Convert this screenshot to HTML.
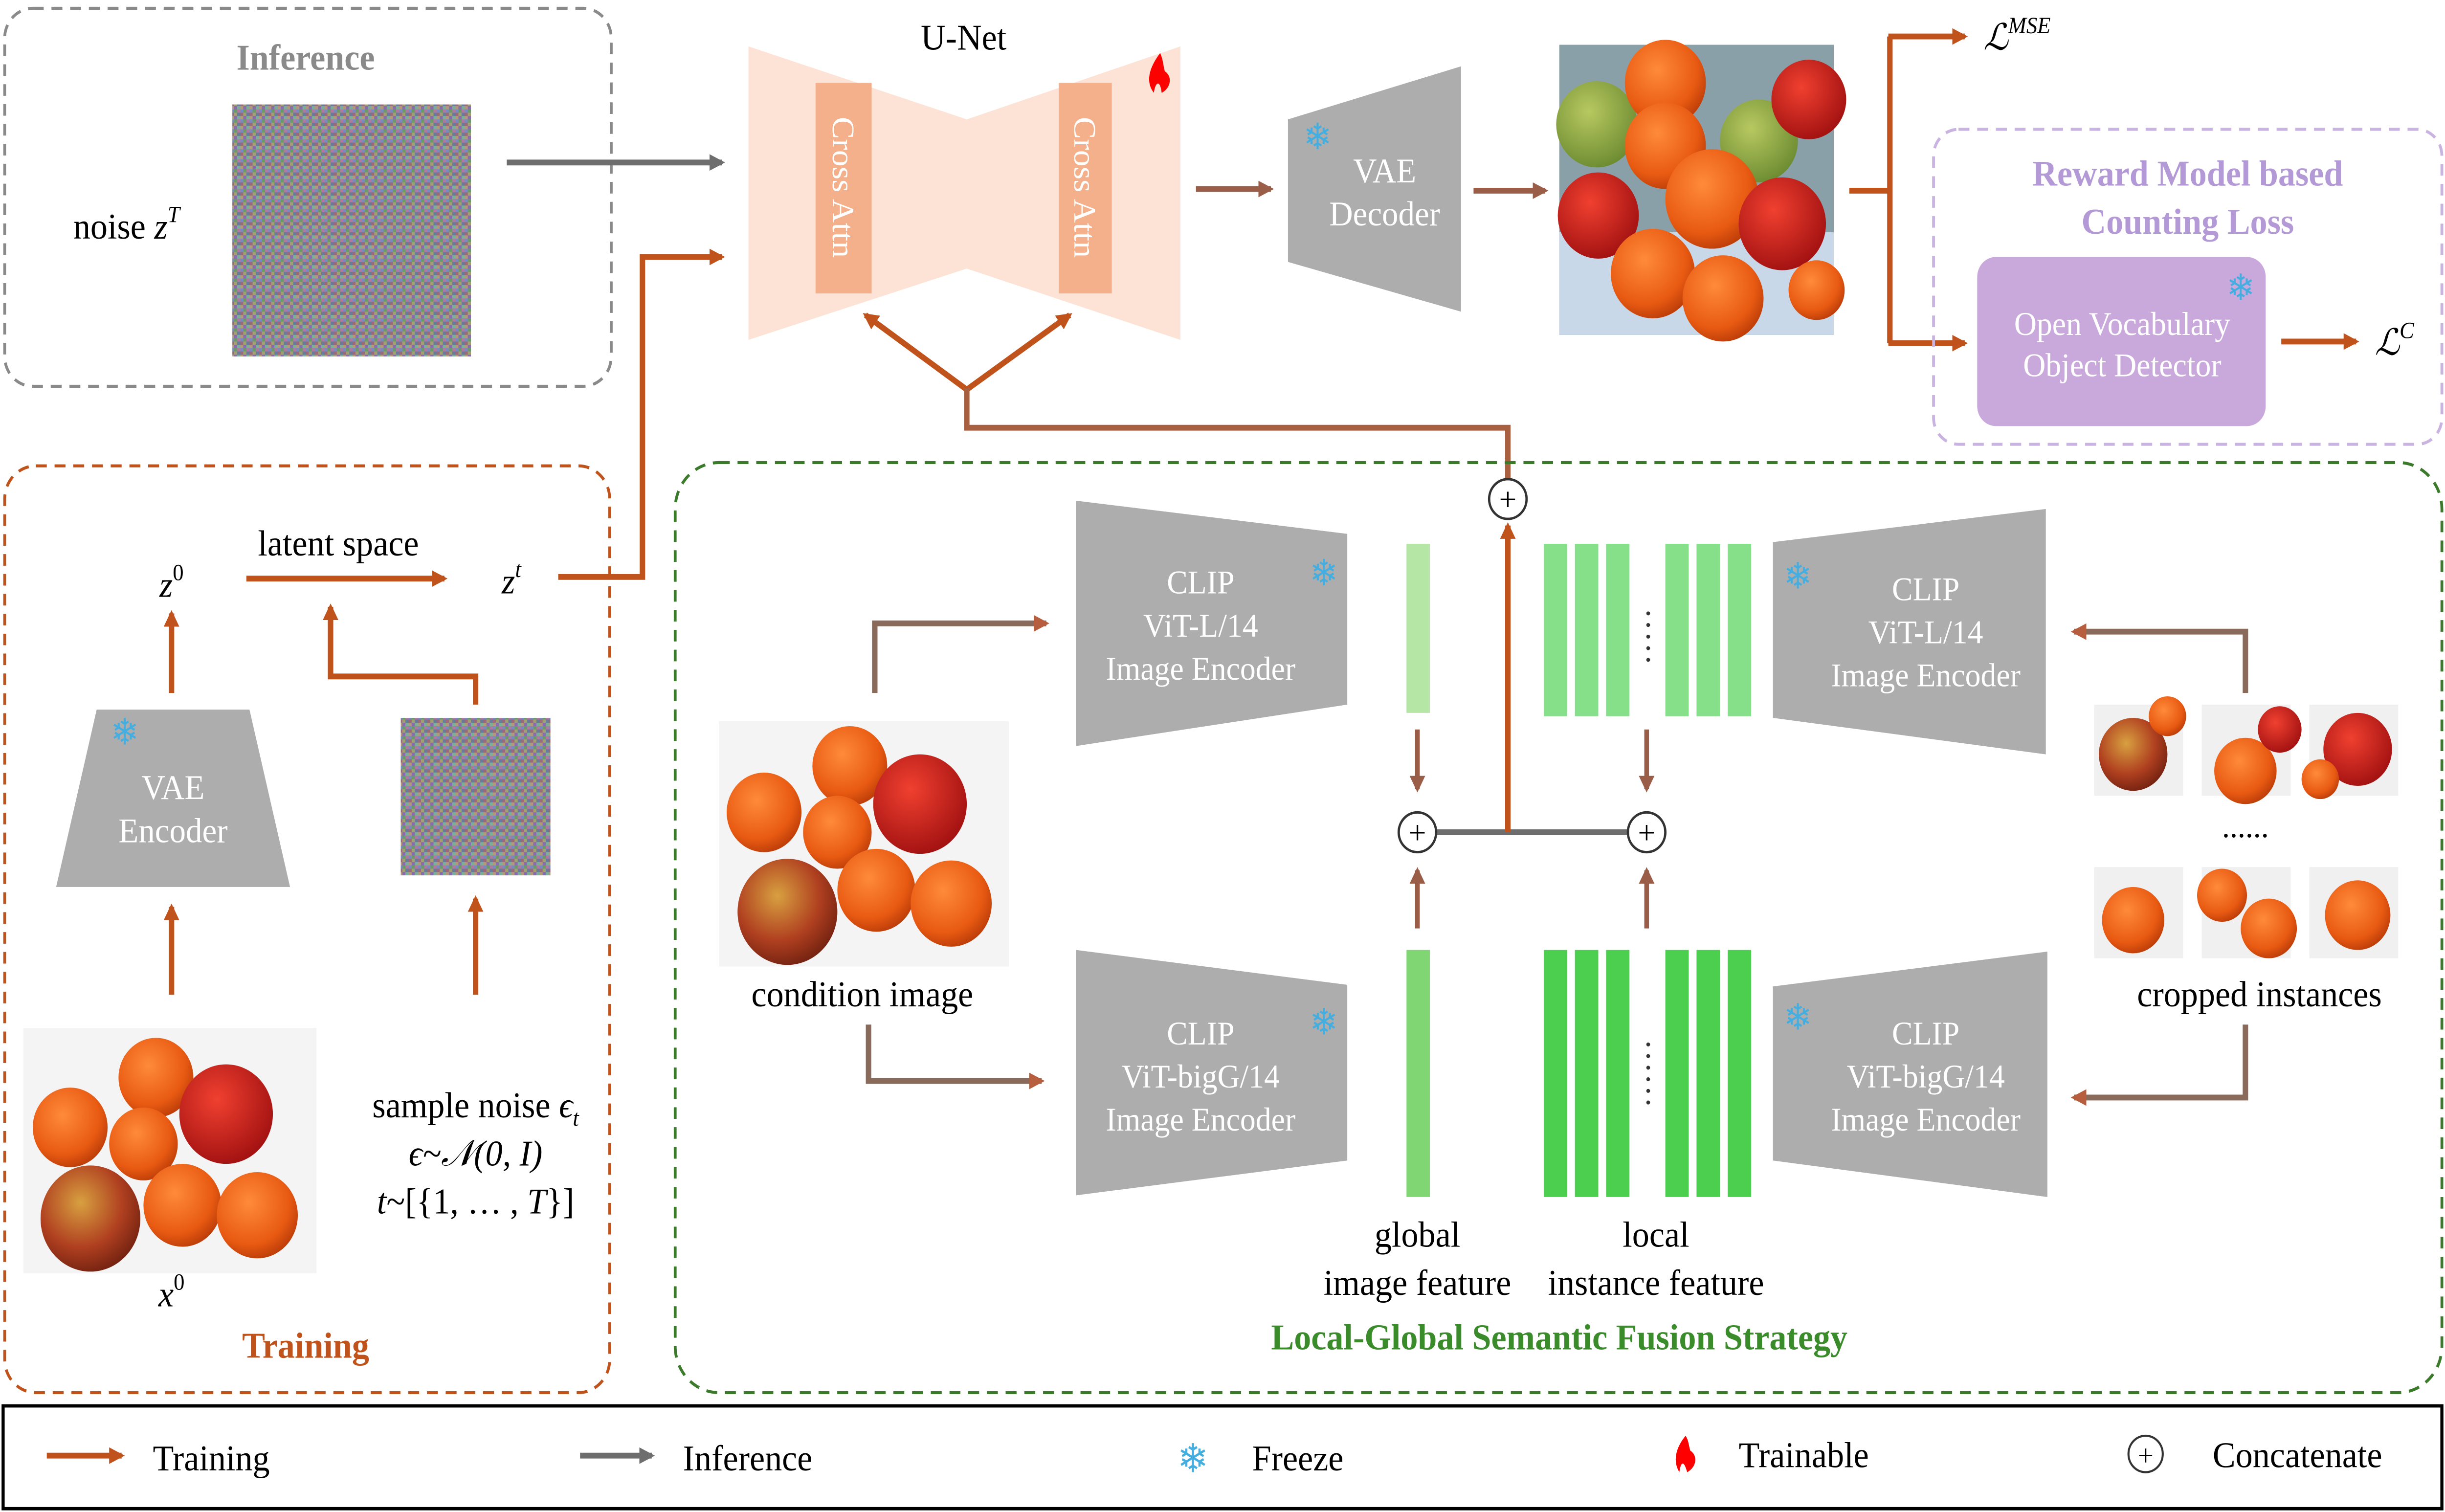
<!DOCTYPE html>
<html><head><meta charset="utf-8">
<style>
html,body{margin:0;padding:0;background:#fff;overflow:hidden;width:100%;height:100%;}
svg{display:block;position:fixed;left:0;top:0;width:100vw;height:100vh;}
text{font-family:"Liberation Serif",serif;}
</style></head>
<body>
<svg viewBox="0 0 1568 912" preserveAspectRatio="none" xmlns="http://www.w3.org/2000/svg">
<defs>
<marker id="ao" markerWidth="10" markerHeight="10" refX="8" refY="5" orient="auto" markerUnits="userSpaceOnUse"><path d="M0,0 L10,5 L0,10 z" fill="#c0531b"/></marker>
<marker id="ag" markerWidth="10" markerHeight="10" refX="8" refY="5" orient="auto" markerUnits="userSpaceOnUse"><path d="M0,0 L10,5 L0,10 z" fill="#6e6e6e"/></marker>
<marker id="am" markerWidth="10" markerHeight="10" refX="8" refY="5" orient="auto" markerUnits="userSpaceOnUse"><path d="M0,0 L10,5 L0,10 z" fill="#9a5d48"/></marker>
<marker id="ab" markerWidth="10" markerHeight="10" refX="8" refY="5" orient="auto" markerUnits="userSpaceOnUse"><path d="M0,0 L10,5 L0,10 z" fill="#b65e3e"/></marker>
<radialGradient id="or" cx="0.4" cy="0.35" r="0.7"><stop offset="0" stop-color="#ff8a3a"/><stop offset="0.7" stop-color="#e85a12"/><stop offset="1" stop-color="#b83a08"/></radialGradient>
<radialGradient id="rd" cx="0.4" cy="0.35" r="0.7"><stop offset="0" stop-color="#f04030"/><stop offset="1" stop-color="#a01010"/></radialGradient>
<radialGradient id="ap" cx="0.4" cy="0.35" r="0.7"><stop offset="0" stop-color="#d8a040"/><stop offset="0.6" stop-color="#b04020"/><stop offset="1" stop-color="#702010"/></radialGradient>
<radialGradient id="gr" cx="0.4" cy="0.35" r="0.7"><stop offset="0" stop-color="#b8c860"/><stop offset="1" stop-color="#6a8a30"/></radialGradient>
<pattern id="nz" width="6" height="6" patternUnits="userSpaceOnUse">
<rect width="6" height="6" fill="#8a8a90"/>
<rect x="0" y="0" width="2" height="2" fill="#6a9a6a"/><rect x="2" y="0" width="2" height="2" fill="#b07aa0"/><rect x="4" y="0" width="2" height="2" fill="#7a8ac0"/>
<rect x="0" y="2" width="2" height="2" fill="#a0a070"/><rect x="2" y="2" width="2" height="2" fill="#6a7a9a"/><rect x="4" y="2" width="2" height="2" fill="#9a6a7a"/>
<rect x="0" y="4" width="2" height="2" fill="#8a6ab0"/><rect x="2" y="4" width="2" height="2" fill="#7ab09a"/><rect x="4" y="4" width="2" height="2" fill="#b09a7a"/>
</pattern>
</defs>

<rect x="3" y="5" width="389" height="228" rx="18" fill="none" stroke="#8a8a8a" stroke-width="1.8" stroke-dasharray="7,5"/>
<text x="196" y="42" font-size="22" font-weight="bold" fill="#8a8a8a" text-anchor="middle">Inference</text>
<text x="47" y="144" font-size="22">noise <tspan font-style="italic">z</tspan><tspan font-size="14" dy="-10" font-style="italic">T</tspan></text>
<rect x="149" y="63" width="153" height="152" fill="url(#nz)"/>
<line x1="325" y1="98" x2="463" y2="98" stroke="#6e6e6e" stroke-width="3.5" marker-end="url(#ag)"/>
<polyline points="358,348 412,348 412,155 463,155" fill="none" stroke="#c0531b" stroke-width="3.5" marker-end="url(#ao)"/>

<text x="618" y="30" font-size="22" text-anchor="middle">U-Net</text>
<polygon points="480,28 620,72 757,28 757,205 620,162 480,205" fill="#fce3d6"/>
<rect x="523" y="50" width="36" height="127" fill="#f3b08a"/>
<rect x="679" y="50" width="34" height="127" fill="#f3b08a"/>
<text transform="translate(534,113) rotate(90)" font-size="20" fill="#fff" text-anchor="middle">Cross Attn</text>
<text transform="translate(689,113) rotate(90)" font-size="20" fill="#fff" text-anchor="middle">Cross Attn</text>
<path d="M744,32 C736,42 735,50 740,56 C741,49 744,48 745,56 C751,53 752,46 747,43 C746,40 746,36 744,32z" fill="#f00"/>
<line x1="767" y1="114" x2="815" y2="114" stroke="#9a5d48" stroke-width="3.5" marker-end="url(#am)"/>

<polygon points="826,72 937,40 937,188 826,158" fill="#adadad"/>
<text x="845" y="90" font-size="22" fill="#45aee0" text-anchor="middle">❄</text>
<text x="888" y="110" font-size="21" fill="#fff" text-anchor="middle">VAE</text>
<text x="888" y="136" font-size="21" fill="#fff" text-anchor="middle">Decoder</text>
<line x1="945" y1="115" x2="991" y2="115" stroke="#9a5d48" stroke-width="3.5" marker-end="url(#am)"/>

<rect x="1000" y="27" width="176" height="175" fill="#8aa0a8"/>
<rect x="1000" y="140" width="176" height="62" fill="#c8d8e8"/>
<circle cx="1024" cy="75" r="26" fill="url(#gr)"/>
<circle cx="1068" cy="50" r="26" fill="url(#or)"/>
<circle cx="1128" cy="85" r="25" fill="url(#gr)"/>
<circle cx="1160" cy="60" r="24" fill="url(#rd)"/>
<circle cx="1068" cy="88" r="26" fill="url(#or)"/>
<circle cx="1098" cy="120" r="30" fill="url(#or)"/>
<circle cx="1025" cy="130" r="26" fill="url(#rd)"/>
<circle cx="1143" cy="135" r="28" fill="url(#rd)"/>
<circle cx="1060" cy="165" r="27" fill="url(#or)"/>
<circle cx="1105" cy="180" r="26" fill="url(#or)"/>
<circle cx="1165" cy="175" r="18" fill="url(#or)"/>

<polyline points="1186,115 1212,115" fill="none" stroke="#c0531b" stroke-width="3.5"/>
<polyline points="1212,22 1212,207" fill="none" stroke="#c0531b" stroke-width="3.5"/>
<line x1="1211" y1="22" x2="1260" y2="22" stroke="#c0531b" stroke-width="3.5" marker-end="url(#ao)"/>
<line x1="1211" y1="207" x2="1260" y2="207" stroke="#c0531b" stroke-width="3.5" marker-end="url(#ao)"/>
<text x="1272" y="30" font-size="22" font-style="italic">ℒ<tspan font-size="14" dy="-10">MSE</tspan></text>

<rect x="1240" y="78" width="326" height="190" rx="16" fill="none" stroke="#c9b3e0" stroke-width="1.8" stroke-dasharray="7,5"/>
<text x="1403" y="112" font-size="22" font-weight="bold" fill="#b39ad6" text-anchor="middle">Reward Model based</text>
<text x="1403" y="141" font-size="22" font-weight="bold" fill="#b39ad6" text-anchor="middle">Counting Loss</text>
<rect x="1268" y="155" width="185" height="102" rx="12" fill="#c9a9dc"/>
<text x="1361" y="202" font-size="20" fill="#fff" text-anchor="middle">Open Vocabulary</text>
<text x="1361" y="227" font-size="20" fill="#fff" text-anchor="middle">Object Detector</text>
<text x="1437" y="181" font-size="22" fill="#45aee0" text-anchor="middle">❄</text>
<line x1="1463" y1="206" x2="1511" y2="206" stroke="#c0531b" stroke-width="3.5" marker-end="url(#ao)"/>
<text x="1523" y="214" font-size="22" font-style="italic">ℒ<tspan font-size="14" dy="-10">C</tspan></text>

<line x1="620" y1="235" x2="555" y2="190" stroke="#c0531b" stroke-width="3.5" marker-end="url(#ao)"/>
<line x1="620" y1="235" x2="686" y2="190" stroke="#c0531b" stroke-width="3.5" marker-end="url(#ao)"/>
<polyline points="620,234 620,258 967,258 967,289" fill="none" stroke="#a86040" stroke-width="3.5"/>
<circle cx="967" cy="301" r="12" fill="#fff" stroke="#333" stroke-width="1.5"/>
<text x="967" y="308" font-size="20" text-anchor="middle">+</text>

<rect x="3" y="281" width="388" height="559" rx="20" fill="none" stroke="#c0531b" stroke-width="1.8" stroke-dasharray="7,5"/>
<text x="196" y="819" font-size="22" font-weight="bold" fill="#c0531b" text-anchor="middle">Training</text>
<text x="110" y="360" font-size="22" font-style="italic" text-anchor="middle">z<tspan font-size="14" dy="-10" font-style="normal">0</tspan></text>
<line x1="110" y1="418" x2="110" y2="370" stroke="#c0531b" stroke-width="3.5" marker-end="url(#ao)"/>
<polygon points="62,428 160,428 186,535 36,535" fill="#adadad"/>
<text x="80" y="449" font-size="22" fill="#45aee0" text-anchor="middle">❄</text>
<text x="111" y="482" font-size="21" fill="#fff" text-anchor="middle">VAE</text>
<text x="111" y="508" font-size="21" fill="#fff" text-anchor="middle">Encoder</text>
<line x1="110" y1="600" x2="110" y2="547" stroke="#c0531b" stroke-width="3.5" marker-end="url(#ao)"/>
<rect x="15" y="620" width="188" height="148" fill="#f4f4f4"/>
<circle cx="58" cy="735" r="32" fill="url(#ap)"/>
<circle cx="45" cy="680" r="24" fill="url(#or)"/>
<circle cx="100" cy="650" r="24" fill="url(#or)"/>
<circle cx="145" cy="672" r="30" fill="url(#rd)"/>
<circle cx="92" cy="690" r="22" fill="url(#or)"/>
<circle cx="117" cy="727" r="25" fill="url(#or)"/>
<circle cx="165" cy="733" r="26" fill="url(#or)"/>
<text x="110" y="788" font-size="22" font-style="italic" text-anchor="middle">x<tspan font-size="14" dy="-10" font-style="normal">0</tspan></text>
<text x="217" y="335" font-size="22" text-anchor="middle">latent space</text>
<line x1="158" y1="349" x2="285" y2="349" stroke="#c0531b" stroke-width="3.5" marker-end="url(#ao)"/>
<text x="328" y="358" font-size="22" font-style="italic" text-anchor="middle">z<tspan font-size="14" dy="-10">t</tspan></text>
<rect x="257" y="433" width="96" height="95" fill="url(#nz)"/>
<polyline points="305,425 305,408 212,408 212,366" fill="none" stroke="#c0531b" stroke-width="3.5" marker-end="url(#ao)"/>
<line x1="305" y1="600" x2="305" y2="542" stroke="#c0531b" stroke-width="3.5" marker-end="url(#ao)"/>
<text x="305" y="674" font-size="22" text-anchor="middle">sample noise <tspan font-style="italic">ϵ</tspan><tspan font-size="14" dy="5" font-style="italic">t</tspan></text>
<text x="305" y="703" font-size="22" text-anchor="middle" font-style="italic">ϵ~𝒩(0, I)</text>
<text x="305" y="732" font-size="22" text-anchor="middle"><tspan font-style="italic">t</tspan>~[{1, … , <tspan font-style="italic">T</tspan>}]</text>

<rect x="433" y="279" width="1133" height="561" rx="28" fill="none" stroke="#3a7a2a" stroke-width="1.8" stroke-dasharray="7,5"/>
<text x="1000" y="814" font-size="22" font-weight="bold" fill="#3a8c2a" text-anchor="middle">Local-Global Semantic Fusion Strategy</text>

<rect x="461" y="435" width="186" height="148" fill="#f4f4f4"/>
<circle cx="505" cy="550" r="32" fill="url(#ap)"/>
<circle cx="490" cy="490" r="24" fill="url(#or)"/>
<circle cx="545" cy="462" r="24" fill="url(#or)"/>
<circle cx="590" cy="485" r="30" fill="url(#rd)"/>
<circle cx="537" cy="502" r="22" fill="url(#or)"/>
<circle cx="562" cy="537" r="25" fill="url(#or)"/>
<circle cx="610" cy="545" r="26" fill="url(#or)"/>
<text x="553" y="607" font-size="22" text-anchor="middle">condition image</text>
<polyline points="561,418 561,376 671,376" fill="none" stroke="#8a6a5a" stroke-width="3.5" marker-end="url(#ab)"/>
<polyline points="557,618 557,652 668,652" fill="none" stroke="#8a6a5a" stroke-width="3.5" marker-end="url(#ab)"/>

<polygon points="690,302 864,322 864,425 690,450" fill="#adadad"/>
<text x="849" y="353" font-size="22" fill="#45aee0" text-anchor="middle">❄</text>
<text x="770" y="358" font-size="20" fill="#fff" text-anchor="middle">CLIP</text>
<text x="770" y="384" font-size="20" fill="#fff" text-anchor="middle">ViT-L/14</text>
<text x="770" y="410" font-size="20" fill="#fff" text-anchor="middle">Image Encoder</text>
<polygon points="690,573 864,594 864,700 690,721" fill="#adadad"/>
<text x="849" y="624" font-size="22" fill="#45aee0" text-anchor="middle">❄</text>
<text x="770" y="630" font-size="20" fill="#fff" text-anchor="middle">CLIP</text>
<text x="770" y="656" font-size="20" fill="#fff" text-anchor="middle">ViT-bigG/14</text>
<text x="770" y="682" font-size="20" fill="#fff" text-anchor="middle">Image Encoder</text>

<rect x="902" y="328" width="15" height="102" fill="#b5e6a5"/>
<rect x="902" y="573" width="15" height="149" fill="#7fd672"/>
<line x1="909" y1="440" x2="909" y2="476" stroke="#9a5d48" stroke-width="3" marker-end="url(#am)"/>
<line x1="909" y1="560" x2="909" y2="525" stroke="#9a5d48" stroke-width="3" marker-end="url(#am)"/>
<line x1="921" y1="502" x2="1044" y2="502" stroke="#6e6e6e" stroke-width="3.5"/>
<polyline points="967,502 967,317" fill="none" stroke="#c0531b" stroke-width="3.5" marker-end="url(#ao)"/>
<circle cx="909" cy="502" r="12" fill="#fff" stroke="#333" stroke-width="1.5"/>
<text x="909" y="509" font-size="20" text-anchor="middle">+</text>
<circle cx="1056" cy="502" r="12" fill="#fff" stroke="#333" stroke-width="1.5"/>
<text x="1056" y="509" font-size="20" text-anchor="middle">+</text>

<g fill="#86e08a">
<rect x="990" y="328" width="15" height="104"/><rect x="1010" y="328" width="15" height="104"/><rect x="1030" y="328" width="15" height="104"/>
<rect x="1068" y="328" width="15" height="104"/><rect x="1088" y="328" width="15" height="104"/><rect x="1108" y="328" width="15" height="104"/>
</g>
<g fill="#4ccf4f">
<rect x="990" y="573" width="15" height="149"/><rect x="1010" y="573" width="15" height="149"/><rect x="1030" y="573" width="15" height="149"/>
<rect x="1068" y="573" width="15" height="149"/><rect x="1088" y="573" width="15" height="149"/><rect x="1108" y="573" width="15" height="149"/>
</g>
<g fill="#333"><circle cx="1057" cy="370" r="1.2"/><circle cx="1057" cy="377" r="1.2"/><circle cx="1057" cy="384" r="1.2"/><circle cx="1057" cy="391" r="1.2"/><circle cx="1057" cy="398" r="1.2"/>
<circle cx="1057" cy="630" r="1.2"/><circle cx="1057" cy="637" r="1.2"/><circle cx="1057" cy="644" r="1.2"/><circle cx="1057" cy="651" r="1.2"/><circle cx="1057" cy="658" r="1.2"/><circle cx="1057" cy="665" r="1.2"/></g>
<line x1="1056" y1="440" x2="1056" y2="476" stroke="#9a5d48" stroke-width="3" marker-end="url(#am)"/>
<line x1="1056" y1="560" x2="1056" y2="525" stroke="#9a5d48" stroke-width="3" marker-end="url(#am)"/>

<text x="909" y="752" font-size="22" text-anchor="middle">global</text>
<text x="909" y="781" font-size="22" text-anchor="middle">image feature</text>
<text x="1062" y="752" font-size="22" text-anchor="middle">local</text>
<text x="1062" y="781" font-size="22" text-anchor="middle">instance feature</text>

<polygon points="1137,327 1312,307 1312,455 1137,433" fill="#adadad"/>
<text x="1153" y="355" font-size="22" fill="#45aee0" text-anchor="middle">❄</text>
<text x="1235" y="362" font-size="20" fill="#fff" text-anchor="middle">CLIP</text>
<text x="1235" y="388" font-size="20" fill="#fff" text-anchor="middle">ViT-L/14</text>
<text x="1235" y="414" font-size="20" fill="#fff" text-anchor="middle">Image Encoder</text>
<polygon points="1137,595 1313,574 1313,722 1137,700" fill="#adadad"/>
<text x="1153" y="621" font-size="22" fill="#45aee0" text-anchor="middle">❄</text>
<text x="1235" y="630" font-size="20" fill="#fff" text-anchor="middle">CLIP</text>
<text x="1235" y="656" font-size="20" fill="#fff" text-anchor="middle">ViT-bigG/14</text>
<text x="1235" y="682" font-size="20" fill="#fff" text-anchor="middle">Image Encoder</text>
<polyline points="1440,418 1440,381 1330,381" fill="none" stroke="#8a6a5a" stroke-width="3.5" marker-end="url(#ab)"/>
<polyline points="1440,618 1440,662 1330,662" fill="none" stroke="#8a6a5a" stroke-width="3.5" marker-end="url(#ab)"/>

<g>
<rect x="1343" y="425" width="57" height="55" fill="#f0f0f0"/><circle cx="1368" cy="455" r="22" fill="url(#ap)"/><circle cx="1390" cy="432" r="12" fill="url(#or)"/>
<rect x="1412" y="425" width="57" height="55" fill="#f0f0f0"/><circle cx="1440" cy="465" r="20" fill="url(#or)"/><circle cx="1462" cy="440" r="14" fill="url(#rd)"/>
<rect x="1481" y="425" width="57" height="55" fill="#f0f0f0"/><circle cx="1512" cy="452" r="22" fill="url(#rd)"/><circle cx="1488" cy="470" r="12" fill="url(#or)"/>
<rect x="1343" y="523" width="57" height="55" fill="#f0f0f0"/><circle cx="1368" cy="555" r="20" fill="url(#or)"/>
<rect x="1412" y="523" width="57" height="55" fill="#f0f0f0"/><circle cx="1425" cy="540" r="16" fill="url(#or)"/><circle cx="1455" cy="560" r="18" fill="url(#or)"/>
<rect x="1481" y="523" width="57" height="55" fill="#f0f0f0"/><circle cx="1512" cy="552" r="21" fill="url(#or)"/>
</g>
<text x="1440" y="505" font-size="20" text-anchor="middle">......</text>
<text x="1449" y="607" font-size="22" text-anchor="middle">cropped instances</text>

<rect x="2" y="848" width="1564" height="62" fill="#fff" stroke="#000" stroke-width="2"/>
<line x1="30" y1="878" x2="78" y2="878" stroke="#c0531b" stroke-width="3.5" marker-end="url(#ao)"/>
<text x="98" y="887" font-size="22">Training</text>
<line x1="372" y1="878" x2="418" y2="878" stroke="#6e6e6e" stroke-width="3.5" marker-end="url(#ag)"/>
<text x="438" y="887" font-size="22">Inference</text>
<text x="765" y="888" font-size="24" fill="#45aee0" text-anchor="middle">❄</text>
<text x="803" y="887" font-size="22">Freeze</text>
<path d="M1081,866 C1074,874 1073,882 1077,888 C1078,881 1080,881 1082,888 C1088,885 1089,878 1084,875 C1083,872 1083,869 1081,866z" fill="#f00"/>
<text x="1115" y="885" font-size="22">Trainable</text>
<circle cx="1376" cy="877" r="11" fill="#fff" stroke="#333" stroke-width="1.3"/>
<text x="1376" y="884" font-size="18" text-anchor="middle">+</text>
<text x="1419" y="885" font-size="22">Concatenate</text>
</svg>
</body></html>
